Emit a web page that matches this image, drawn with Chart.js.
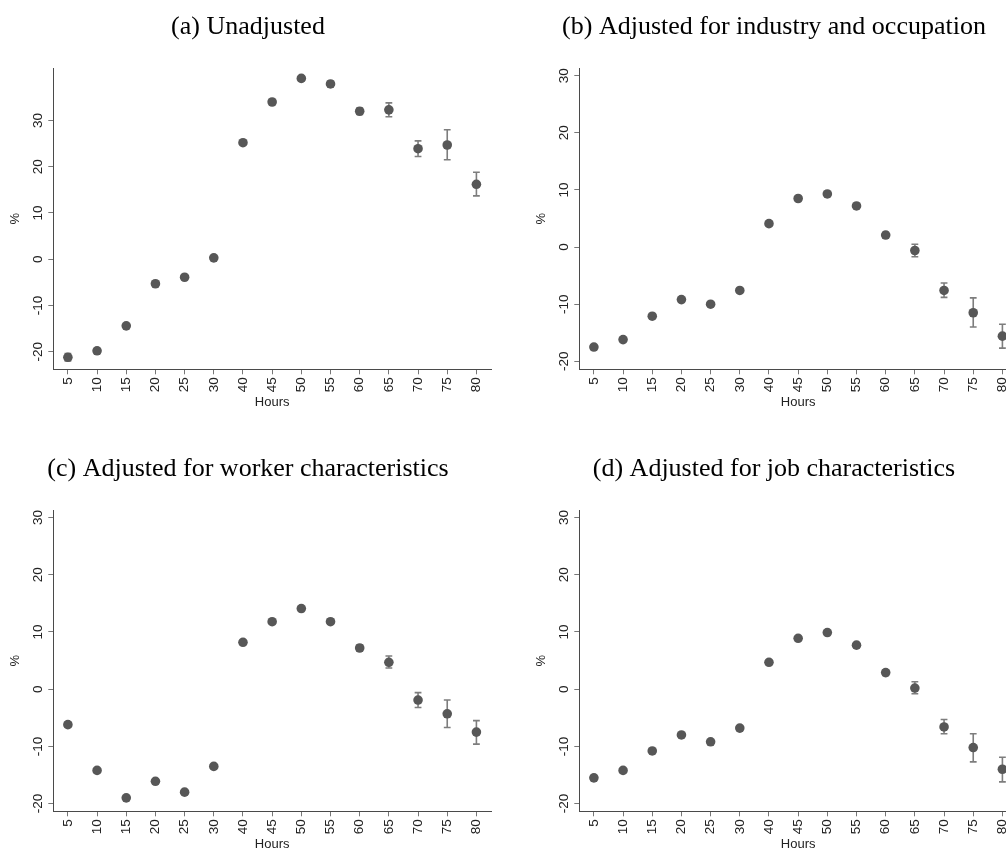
<!DOCTYPE html>
<html>
<head>
<meta charset="utf-8">
<script src="https://cdn.jsdelivr.net/npm/chart.js@4.4.1/dist/chart.umd.min.js"></script>
<style>
  html, body { margin: 0; padding: 0; background: #fff; overflow: hidden; width: 1006px; height: 851px; }
  .panel { position: absolute; }
</style>
</head>
<body>
<canvas id="pa" class="panel" width="496" height="430" style="left:0px;top:0px"></canvas>
<canvas id="pb" class="panel" width="496" height="430" style="left:526px;top:0px"></canvas>
<canvas id="pc" class="panel" width="496" height="430" style="left:0px;top:442px"></canvas>
<canvas id="pd" class="panel" width="496" height="430" style="left:526px;top:442px"></canvas>
<script>
// Weekly hours bins (category axis)
const hours = ['5', '10', '15', '20', '25', '30', '40', '45', '50', '55', '60', '65', '70', '75', '80'];
const yTickValues = [-20, -10, 0, 10, 20, 30];

// (a) Unadjusted
const unadjEst = [-21.2, -19.8, -14.4, -5.3, -3.9, 0.3, 25.2, 34.0, 39.1, 37.9, 32.0, 32.3, 23.9, 24.7, 16.2];
const unadjLo  = [-22.0, -20.3, -14.8, -5.7, -4.3, -0.1, 24.9, 33.7, 38.7, 37.3, 31.3, 30.8, 22.2, 21.5, 13.7];
const unadjHi  = [-20.4, -19.3, -14.0, -4.9, -3.5, 0.7, 25.5, 34.3, 39.5, 38.5, 32.7, 33.8, 25.6, 28.0, 18.8];

// (b) Adjusted for industry and occupation
const indOccEst = [-17.5, -16.2, -12.1, -9.2, -10.0, -7.6, 4.1, 8.5, 9.3, 7.2, 2.1, -0.6, -7.6, -11.5, -15.6];
const indOccLo  = [-17.9, -16.5, -12.4, -9.5, -10.3, -7.9, 3.8, 8.2, 9.0, 6.8, 1.6, -1.7, -8.8, -14.0, -17.7];
const indOccHi  = [-17.1, -15.9, -11.8, -8.9, -9.7, -7.3, 4.4, 8.8, 9.6, 7.6, 2.6, 0.5, -6.3, -8.9, -13.5];

// (c) Adjusted for worker characteristics
const workerEst = [-6.2, -14.2, -19.0, -16.1, -18.0, -13.5, 8.2, 11.8, 14.1, 11.8, 7.2, 4.7, -1.9, -4.3, -7.5];
const workerLo  = [-6.6, -14.5, -19.3, -16.4, -18.3, -13.8, 7.9, 11.5, 13.8, 11.4, 6.7, 3.7, -3.2, -6.7, -9.6];
const workerHi  = [-5.8, -13.9, -18.7, -15.8, -17.7, -13.2, 8.5, 12.1, 14.4, 12.2, 7.7, 5.8, -0.6, -1.9, -5.5];

// (d) Adjusted for job characteristics
const jobEst = [-15.5, -14.2, -10.8, -8.0, -9.2, -6.8, 4.7, 8.9, 9.9, 7.7, 2.9, 0.2, -6.6, -10.2, -14.0];
const jobLo  = [-15.9, -14.5, -11.1, -8.3, -9.5, -7.1, 4.4, 8.6, 9.6, 7.3, 2.4, -0.8, -7.8, -12.7, -16.2];
const jobHi  = [-15.1, -13.9, -10.5, -7.7, -8.9, -6.5, 5.0, 9.2, 10.2, 8.1, 3.4, 1.3, -5.3, -7.8, -11.9];

const markerColor = '#575757';
const barColor = '#7d7d7d';
const axisColor = '#4a4a4a';
const textColor = '#222';
const sans = "'Liberation Sans', Arial, sans-serif";
const serif = "'Liberation Serif', 'Times New Roman', serif";

// Confidence-interval whiskers with caps, drawn under the point markers
const ciPlugin = {
  id: 'ciWhiskers',
  beforeDatasetsDraw(chart, args, opts) {
    const { ctx, scales: { x, y } } = chart;
    const lo = opts.lo, hi = opts.hi;
    ctx.save();
    ctx.strokeStyle = barColor;
    ctx.lineWidth = 1.6;
    const cap = 3.4;
    for (let i = 0; i < lo.length; i++) {
      const px = x.getPixelForValue(i);
      const yl = y.getPixelForValue(lo[i]);
      const yh = y.getPixelForValue(hi[i]);
      ctx.beginPath();
      ctx.moveTo(px, yl); ctx.lineTo(px, yh);
      ctx.moveTo(px - cap, yl); ctx.lineTo(px + cap, yl);
      ctx.moveTo(px - cap, yh); ctx.lineTo(px + cap, yh);
      ctx.stroke();
    }
    ctx.restore();
  }
};

function makePanel(id, title, est, lo, hi, yMin, yMax) {
  return new Chart(document.getElementById(id), {
    type: 'line',
    data: {
      labels: hours,
      datasets: [{
        data: est,
        showLine: false,
        pointRadius: 4.8,
        pointBorderWidth: 0,
        pointBackgroundColor: markerColor,
        pointBorderColor: markerColor
      }]
    },
    plugins: [ciPlugin],
    options: {
      responsive: false,
      animation: false,
      devicePixelRatio: 1,
      events: [],
      layout: { padding: { left: 5, right: 5, top: 0, bottom: 0 } },
      plugins: {
        legend: { display: false },
        tooltip: { enabled: false },
        title: {
          display: true,
          text: title,
          color: '#000',
          font: { family: serif, size: 26, weight: 'normal', lineHeight: 1.2 },
          padding: { top: 11.4, bottom: 25.4 }
        },
        ciWhiskers: { lo: lo, hi: hi }
      },
      scales: {
        x: {
          type: 'category',
          offset: true,
          afterFit(scale) { scale.height = 60.7; },
          grid: { display: true, drawOnChartArea: false, drawTicks: true, tickLength: 5, color: '#777', offset: false },
          border: { display: true, color: axisColor, width: 1 },
          ticks: {
            autoSkip: false, minRotation: 90, maxRotation: 90, padding: 3,
            color: textColor, font: { family: sans, size: 13.5 }
          },
          title: {
            display: true, text: 'Hours', color: textColor,
            font: { family: sans, size: 13, lineHeight: 1.2 },
            padding: { top: 0, bottom: 19.5 }
          }
        },
        y: {
          type: 'linear',
          min: yMin,
          max: yMax,
          afterFit(scale) { scale.width = 48.3; },
          afterBuildTicks(scale) { scale.ticks = yTickValues.map(v => ({ value: v })); },
          grid: { display: true, drawOnChartArea: false, drawTicks: true, tickLength: 5, color: '#777' },
          border: { display: true, color: axisColor, width: 1 },
          ticks: {
            minRotation: 90, maxRotation: 90, crossAlign: 'center', padding: 0,
            color: textColor, font: { family: sans, size: 13.5 },
            callback: v => String(v)
          },
          title: {
            display: true, text: '%', color: textColor,
            font: { family: sans, size: 13, lineHeight: 1.2 },
            padding: { top: 2.2, bottom: 0 }
          }
        }
      }
    }
  });
}

makePanel('pa', '(a) Unadjusted', unadjEst, unadjLo, unadjHi, -23.8, 41.35);
makePanel('pb', '(b) Adjusted for industry and occupation', indOccEst, indOccLo, indOccHi, -21.4, 31.35);
makePanel('pc', '(c) Adjusted for worker characteristics', workerEst, workerLo, workerHi, -21.35, 31.33);
makePanel('pd', '(d) Adjusted for job characteristics', jobEst, jobLo, jobHi, -21.35, 31.33);
</script>
</body>
</html>
